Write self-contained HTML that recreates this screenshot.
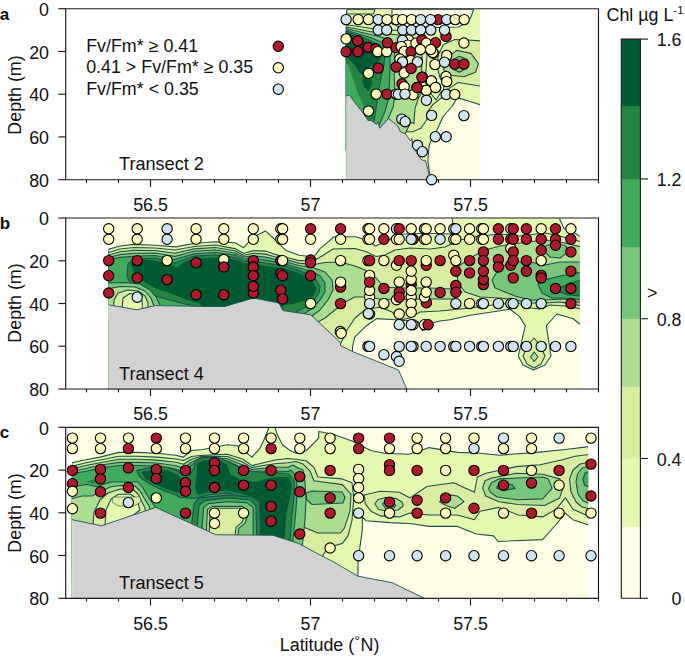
<!DOCTYPE html>
<html><head><meta charset="utf-8"><title>Chl transects</title>
<style>
html,body{margin:0;padding:0;background:#fff;}
body{width:685px;height:660px;position:relative;overflow:hidden;font-family:"Liberation Sans",sans-serif;font-size:17.85px;color:#111;}
.t{position:absolute;white-space:nowrap;line-height:1;}
.t.ym{transform:translateY(-50%);}
.t.r{transform:translate(-100%,-50%);}
.t.c{transform:translate(-50%,-50%);}
.t.yl{transform:translate(-50%,-50%) rotate(-90deg);}
</style></head><body>
<svg width="685" height="660" viewBox="0 0 685 660" style="position:absolute;left:0;top:0">
<rect width="685" height="660" fill="#fff"/>
<clipPath id="cpa"><rect x="345.8" y="9.3" width="134.2" height="170.6"/></clipPath>
<g clip-path="url(#cpa)"><polygon points="345.8,9.4 480.0,9.4 480.0,179.9 345.8,179.9" fill="#e4f9ae"/><polygon points="392.0,9.4 473.5,9.4 471.0,17.0 467.0,23.0 458.0,27.0 440.0,27.5 420.0,26.5 400.0,27.0 392.0,24.0" fill="#ffffe5" stroke="#1f4f4c" stroke-width="1.1" stroke-linejoin="round"/><polygon points="481.0,104.9 470.0,101.5 460.6,98.6 457.1,97.9 452.4,106.0 443.1,116.5 437.2,129.4 431.4,139.9 429.1,145.7 427.9,159.8 429.0,170.0 431.0,181.0 481.0,181.0" fill="#ffffe5" stroke="#1f4f4c" stroke-width="1.1" stroke-linejoin="round"/><polygon points="347.0,9.4 375.0,9.4 373.5,14.0 346.5,14.0" fill="#d9eda0" stroke="#1f4f4c" stroke-width="1.1" stroke-linejoin="round"/><polygon points="345.8,25.0 352.0,25.5 362.0,27.0 375.0,29.0 390.0,30.0 410.0,31.0 424.0,33.0 428.0,45.0 427.0,56.0 426.0,70.0 425.0,80.0 428.0,90.0 436.0,100.0 441.0,92.0 449.2,88.4 458.0,82.5 481.0,86.2 481.0,41.0 468.0,40.0 455.0,39.5 443.4,44.6 438.3,54.8 437.0,66.0 440.0,78.0 444.0,84.0 443.0,96.7 432.6,104.9 427.9,111.9 426.7,120.0 420.9,128.2 412.7,131.7 401.0,131.7 395.0,150.0 345.8,150.0" fill="#d9eda0" stroke="#1f4f4c" stroke-width="1.1" stroke-linejoin="round"/><polygon points="443.4,69.4 446.3,59.2 456.5,50.4 471.0,53.4 478.4,63.6 475.5,72.3 463.8,76.7 450.7,75.3" fill="#addd8e" stroke="#1f4f4c" stroke-width="1.1" stroke-linejoin="round"/><polygon points="453.6,59.2 459.5,56.3 466.8,59.2 466.8,68.0 459.5,72.3 453.6,69.4" fill="#78c679" stroke="#1f4f4c" stroke-width="1.1" stroke-linejoin="round"/><polygon points="345.8,27.0 352.0,28.0 362.0,30.0 375.0,32.5 390.0,34.0 405.0,36.0 416.0,40.0 421.0,48.0 422.0,56.0 421.5,78.0 420.0,95.7 418.6,97.9 415.0,108.4 413.9,123.6 410.6,122.4 405.0,134.0 395.0,150.0 345.8,150.0" fill="#addd8e" stroke="#1f4f4c" stroke-width="1.1" stroke-linejoin="round"/><polygon points="345.8,28.5 352.0,30.0 362.0,32.5 375.0,35.5 388.0,39.0 394.0,45.0 395.0,60.0 394.2,75.0 395.0,93.3 393.3,106.7 388.3,118.3 384.0,126.0 380.0,132.0 345.8,150.0" fill="#78c679" stroke="#1f4f4c" stroke-width="1.1" stroke-linejoin="round"/><polygon points="345.8,30.0 352.0,32.0 362.0,35.0 373.0,38.5 383.0,43.0 389.0,49.0 390.0,55.8 390.0,70.0 389.2,86.7 388.3,100.0 384.2,113.3 380.0,123.3 376.0,130.0 345.8,150.0" fill="#41ab5d" stroke="#1f4f4c" stroke-width="1.1" stroke-linejoin="round"/><polygon points="345.8,31.0 352.0,33.5 362.0,37.0 372.0,41.5 380.0,46.5 384.5,51.0 385.0,53.3 384.2,63.3 381.7,75.0 379.2,86.7 377.5,98.3 375.8,110.0 374.2,120.0 370.0,128.0 345.8,150.0" fill="#238443" stroke="#1f4f4c" stroke-width="1.1" stroke-linejoin="round"/><polygon points="344.8,62.0 349.0,66.0 352.0,76.0 356.0,88.0 360.0,98.0 365.0,108.0 368.0,116.0 362.0,122.0 344.8,112.0" fill="#41ab5d"/><polygon points="344.8,31.7 356.7,36.7 371.7,45.0 381.7,50.8 382.5,55.8 378.3,61.7 373.3,64.2 368.3,68.3 364.0,74.5 360.0,73.3 353.3,63.3 344.8,55.8" fill="#005a32"/><polygon points="362.5,76.7 368.3,75.0 372.5,83.3 368.3,91.7 364.2,86.7 362.5,81.7" fill="#005a32"/><polygon points="345.8,96.4 349.5,95.0 355.2,103.2 362.7,112.3 368.0,120.6 371.0,120.2 376.4,124.4 377.9,122.2 379.7,128.2 388.5,118.6 392.3,121.4 397.6,125.9 400.6,132.0 405.2,133.5 410.5,141.0 412.0,138.5 412.7,145.6 418.8,156.2 421.8,160.0 425.6,160.8 427.9,169.8 431.0,181.0 343.8,181.0 343.8,96.4" fill="#d2d2d2" stroke="#1f4f4c" stroke-width="0.9" stroke-linejoin="round"/><path d="M346.3 96V181" stroke="#9fd49a" stroke-width="1.2"/></g>
<clipPath id="cpb"><rect x="108.4" y="218.6" width="471.4" height="170.6"/></clipPath>
<g clip-path="url(#cpb)"><polygon points="108.4,218.6 579.8,218.6 579.8,389.2 108.4,389.2" fill="#ffffe5"/><polygon points="108.4,249.4 120.1,246.0 133.6,244.4 155.4,245.2 175.5,246.9 194.0,243.5 215.0,241.8 235.2,242.7 243.6,247.7 253.7,236.8 265.4,230.9 275.5,240.2 285.5,250.2 299.0,255.3 314.0,257.0 320.0,248.6 330.2,240.2 333.6,236.8 355.4,236.8 367.0,240.2 375.5,246.0 378.9,244.4 388.0,241.0 396.0,235.0 410.0,233.5 440.0,233.5 451.0,234.0 455.0,230.0 453.0,225.0 452.0,217.0 558.8,217.0 563.9,228.4 575.6,233.5 581.8,238.0 581.8,325.7 573.2,318.7 556.8,314.0 546.3,325.7 551.0,356.0 545.0,365.0 533.5,370.0 523.0,365.0 518.3,356.0 525.3,325.7 519.4,316.4 510.0,309.3 470.4,315.2 450.0,319.7 440.0,321.0 428.0,324.0 422.6,330.7 418.2,321.9 400.0,320.0 376.6,318.6 365.7,326.3 354.7,337.2 352.5,347.0 352.5,351.5 300.0,392.0 108.4,392.0" fill="#e4f9ae" stroke="#1f4f4c" stroke-width="1.1" stroke-linejoin="round"/><polygon points="108.4,252.5 120.0,249.0 134.0,247.5 155.0,248.0 175.0,250.0 194.0,246.5 215.0,245.0 235.0,248.6 243.6,253.3 253.7,250.6 265.4,251.1 275.5,254.4 285.5,257.3 299.0,260.6 314.0,260.5 322.0,256.0 333.0,249.0 355.0,248.5 367.0,252.0 376.0,256.5 385.0,255.0 395.0,250.0 410.0,248.0 430.0,249.0 445.0,247.0 460.0,240.0 480.0,236.0 500.0,234.0 520.0,236.0 545.0,233.0 560.0,236.0 581.8,242.0 581.8,309.0 565.0,306.0 550.0,305.0 540.0,309.0 530.0,308.0 518.0,303.0 500.0,304.0 470.0,308.0 440.0,311.0 420.0,312.0 410.0,318.0 400.0,320.0 392.0,312.0 380.0,307.0 365.0,310.0 355.0,318.0 347.0,330.0 341.0,343.0 300.0,392.0 108.4,392.0" fill="#d9eda0" stroke="#1f4f4c" stroke-width="1.1" stroke-linejoin="round"/><polygon points="108.4,255.0 120.0,251.8 134.0,250.4 155.0,250.5 175.0,253.2 194.0,248.9 215.0,247.5 235.0,250.8 243.6,255.2 253.7,253.2 265.4,254.1 275.5,257.0 285.5,259.6 299.0,263.1 314.0,264.5 325.0,262.5 340.0,262.0 355.0,266.0 365.0,270.0 376.0,278.0 384.0,287.0 400.0,288.0 430.0,288.0 454.0,289.0 462.0,292.0 454.0,299.0 430.0,299.0 400.0,299.5 380.0,299.0 366.0,297.0 355.0,297.0 345.0,302.0 335.0,310.0 325.0,318.0 318.0,322.0 300.0,392.0 108.4,392.0" fill="#addd8e" stroke="#1f4f4c" stroke-width="1.1" stroke-linejoin="round"/><polygon points="459.0,266.0 470.0,258.0 485.0,250.0 500.0,246.0 520.0,243.0 545.0,240.0 565.0,243.0 581.8,247.0 581.8,306.0 560.0,302.0 545.0,303.0 530.0,303.0 515.0,300.0 500.0,298.0 480.0,297.0 465.0,292.0 458.0,283.0 457.0,274.0" fill="#addd8e" stroke="#1f4f4c" stroke-width="1.1" stroke-linejoin="round"/><polygon points="498.0,270.0 510.0,262.0 530.0,262.0 545.0,265.0 560.0,262.0 581.8,262.0 581.8,303.0 565.0,299.0 545.0,300.0 530.0,300.0 515.0,296.0 505.0,292.0 495.0,288.0 492.0,280.0" fill="#78c679" stroke="#1f4f4c" stroke-width="1.1" stroke-linejoin="round"/><polygon points="545.0,246.0 555.0,243.0 566.0,246.0 568.0,252.0 560.0,258.0 550.0,257.0 545.0,252.0" fill="#78c679" stroke="#1f4f4c" stroke-width="1.1" stroke-linejoin="round"/><polygon points="538.0,284.0 548.0,279.0 560.0,276.0 581.8,272.0 581.8,300.0 565.0,298.0 552.0,298.0 542.0,293.0" fill="#41ab5d" stroke="#1f4f4c" stroke-width="1.1" stroke-linejoin="round"/><polygon points="560.0,288.0 570.0,283.0 581.8,280.0 581.8,296.0 568.0,295.0 560.0,292.0" fill="#238443" stroke="#1f4f4c" stroke-width="1.1" stroke-linejoin="round"/><polygon points="528.0,345.0 534.0,338.0 540.0,345.0 545.0,356.0 541.0,364.0 534.0,368.0 527.0,364.0 523.0,356.0" fill="#d9eda0" stroke="#1f4f4c" stroke-width="1.1" stroke-linejoin="round"/><polygon points="534.2,352.0 538.0,357.0 534.2,361.5 530.5,357.0" fill="#addd8e" stroke="#1f4f4c" stroke-width="1.1" stroke-linejoin="round"/><polygon points="108.4,257.5 120.0,254.6 134.0,253.3 155.0,253.0 175.0,256.4 194.0,251.3 215.0,250.0 235.0,253.0 243.6,257.1 253.7,255.8 265.4,257.1 275.5,259.6 285.5,261.9 299.0,265.5 314.0,268.0 325.0,272.0 332.0,280.0 333.0,290.0 328.0,300.0 320.0,310.0 312.0,316.0 300.0,392.0 108.4,392.0" fill="#78c679" stroke="#1f4f4c" stroke-width="1.1" stroke-linejoin="round"/><polygon points="108.4,260.0 120.0,257.4 134.0,256.2 155.0,255.5 175.0,259.6 194.0,253.7 215.0,252.5 235.0,255.1 243.6,259.0 253.7,258.5 265.4,260.0 275.5,262.1 285.5,264.1 299.0,268.0 312.0,271.5 320.0,276.0 325.0,283.0 325.0,292.0 320.0,300.0 313.0,308.0 305.0,313.0 300.0,392.0 108.4,392.0" fill="#41ab5d" stroke="#1f4f4c" stroke-width="1.1" stroke-linejoin="round"/><polygon points="128.0,264.0 134.0,259.1 155.0,258.0 175.0,262.8 194.0,256.1 215.0,255.0 235.0,257.3 243.6,260.9 253.7,261.1 265.4,263.0 275.5,264.7 285.5,266.4 299.0,270.4 310.0,275.0 316.0,280.0 320.0,286.0 319.0,293.0 314.0,300.0 306.0,307.0 298.0,311.0 283.0,320.0 200.0,320.0 200.0,307.0 185.0,304.0 170.0,300.0 155.0,296.0 140.0,290.0 131.0,285.0 127.0,276.0" fill="#238443" stroke="#1f4f4c" stroke-width="1.1" stroke-linejoin="round"/><polygon points="131.0,263.7 142.0,259.5 155.0,260.5 170.0,264.0 176.5,267.5 184.0,262.0 194.0,258.5 215.0,257.5 235.0,259.5 243.6,262.8 253.7,263.7 265.4,266.0 275.5,267.3 285.5,268.7 299.0,272.9 308.0,277.0 312.4,280.4 316.6,289.0 313.0,296.0 305.7,300.6 295.0,303.5 283.0,305.6 283.0,320.0 200.0,320.0 200.7,304.0 184.0,299.0 172.0,293.9 155.0,288.0 150.3,285.5 141.0,280.0 136.0,278.8 133.0,270.0" fill="#005a32"/><polygon points="107.4,283.0 125.0,282.5 140.0,284.0 150.0,290.0 156.0,297.0 160.0,305.0 160.0,320.0 107.4,320.0" fill="#78c679" stroke="#1f4f4c" stroke-width="1.1" stroke-linejoin="round"/><polygon points="107.4,289.0 120.0,286.5 135.0,287.0 145.0,291.0 151.0,298.0 154.0,306.0 154.0,320.0 107.4,320.0" fill="#addd8e" stroke="#1f4f4c" stroke-width="1.1" stroke-linejoin="round"/><polygon points="113.0,320.0 114.0,300.0 118.0,293.0 128.0,290.0 138.0,291.0 145.0,296.0 148.0,303.0 148.0,320.0" fill="#d9eda0" stroke="#1f4f4c" stroke-width="1.1" stroke-linejoin="round"/><polygon points="121.0,320.0 123.0,298.0 130.0,293.5 138.0,295.0 142.0,300.0 143.0,320.0" fill="#e4f9ae" stroke="#1f4f4c" stroke-width="1.1" stroke-linejoin="round"/><polygon points="106.4,304.8 108.4,304.8 137.0,309.8 155.4,305.6 205.0,306.4 225.0,306.4 253.7,298.0 278.8,303.0 283.0,310.6 300.0,313.1 311.0,314.9 340.5,342.7 340.5,345.5 352.5,351.5 398.5,370.0 407.3,390.0 106.4,390.0" fill="#d2d2d2" stroke="#1f4f4c" stroke-width="0.9" stroke-linejoin="round"/><path d="M108.9 305V390" stroke="#c9e9b4" stroke-width="1.2"/></g>
<clipPath id="cpc"><rect x="71.9" y="427.9" width="516.3" height="170.6"/></clipPath>
<g clip-path="url(#cpc)"><polygon points="71.9,427.9 588.2,427.9 588.2,598.5 71.9,598.5" fill="#ffffe5"/><polygon points="71.9,462.8 84.8,460.0 100.0,457.1 119.0,452.4 138.0,452.4 156.9,453.3 175.9,455.2 183.4,457.1 191.4,450.5 202.8,449.5 227.4,444.8 237.0,445.7 252.0,457.1 259.7,448.6 263.5,441.0 269.2,427.0 275.0,427.0 276.8,433.4 282.5,444.8 290.0,450.5 297.0,453.5 306.4,450.5 318.7,438.1 318.7,431.5 333.0,434.3 352.0,441.0 371.0,450.5 384.2,453.3 409.0,454.3 420.0,451.0 429.0,447.6 457.4,452.4 480.0,453.3 499.0,455.2 537.0,452.4 565.4,449.5 590.2,446.5 590.2,525.6 573.0,519.7 565.4,513.1 556.0,524.5 542.6,539.6 498.0,541.5 493.5,535.9 476.4,534.0 457.4,526.4 429.0,526.4 410.0,523.5 390.0,522.6 366.0,520.7 362.4,517.0 362.3,530.0 360.0,546.6 358.0,563.5 358.0,576.2 300.0,601.0 71.9,601.0" fill="#e4f9ae" stroke="#1f4f4c" stroke-width="1.1" stroke-linejoin="round"/><polygon points="70.9,466.6 84.8,463.0 100.0,460.0 119.0,456.2 138.0,456.2 156.9,457.1 175.9,459.0 183.4,460.5 191.4,456.5 202.8,455.2 227.4,454.3 242.6,459.0 252.0,465.6 263.5,462.8 275.0,460.0 288.0,458.5 298.0,459.5 306.4,461.0 314.0,467.5 317.8,477.0 342.4,478.9 352.0,482.7 353.8,497.9 352.0,520.7 348.0,535.9 342.4,543.4 333.0,546.3 325.0,552.0 320.0,560.0 300.0,601.0 71.9,601.0" fill="#d9eda0" stroke="#1f4f4c" stroke-width="1.1" stroke-linejoin="round"/><polygon points="364.3,495.0 380.4,491.3 399.4,492.2 410.0,497.9 427.0,486.5 453.6,482.7 474.5,492.2 477.4,477.0 486.0,473.2 516.3,466.6 540.0,464.7 561.6,460.0 574.9,456.2 590.2,454.3 590.2,516.9 573.0,509.3 565.4,497.9 556.0,509.3 542.6,516.9 518.0,515.0 499.0,507.4 480.0,511.2 474.5,519.7 457.4,515.0 429.0,515.0 410.0,513.1 399.4,516.9 380.4,515.9 371.0,511.2 365.2,503.6" fill="#d9eda0" stroke="#1f4f4c" stroke-width="1.1" stroke-linejoin="round"/><polygon points="70.9,469.1 84.8,465.8 100.0,462.7 119.0,459.3 138.0,459.3 156.9,460.1 175.9,462.3 183.4,464.3 191.4,459.3 202.8,456.1 227.4,456.5 242.6,462.0 252.0,467.6 263.5,465.5 275.0,463.7 288.0,462.8 296.0,461.5 302.6,463.7 310.2,471.3 314.0,480.8 342.4,484.6 351.0,494.1 350.0,511.2 344.3,528.3 340.5,533.0 317.8,533.0 306.4,528.3 300.0,526.0 300.0,560.0 300.0,601.0 71.9,601.0" fill="#addd8e" stroke="#1f4f4c" stroke-width="1.1" stroke-linejoin="round"/><polygon points="439.4,501.7 450.8,495.1 457.4,496.0 464.0,501.7 454.6,508.3 446.0,505.5" fill="#addd8e" stroke="#1f4f4c" stroke-width="1.1" stroke-linejoin="round"/><polygon points="374.7,504.0 378.0,499.5 386.0,497.5 396.0,498.5 402.0,502.0 403.2,506.0 398.0,510.0 388.0,511.5 379.0,509.5" fill="#addd8e" stroke="#1f4f4c" stroke-width="1.1" stroke-linejoin="round"/><polygon points="382.3,504.0 385.0,501.0 390.0,500.5 394.5,502.5 395.6,506.0 392.0,509.0 386.0,509.0" fill="#78c679" stroke="#1f4f4c" stroke-width="1.1" stroke-linejoin="round"/><polygon points="483.0,486.5 485.0,480.8 491.6,478.0 516.3,473.2 542.6,474.2 559.7,478.9 563.5,486.5 559.7,497.9 544.5,505.5 518.0,504.5 499.0,501.7 485.7,496.0 482.8,488.4" fill="#addd8e" stroke="#1f4f4c" stroke-width="1.1" stroke-linejoin="round"/><polygon points="488.5,488.4 491.4,482.7 499.0,478.9 542.6,477.0 548.3,478.9 552.1,488.4 542.6,498.9 518.0,499.8 497.0,497.0 490.4,492.2" fill="#78c679" stroke="#1f4f4c" stroke-width="1.1" stroke-linejoin="round"/><polygon points="496.5,488.0 499.0,484.0 512.0,484.5 515.0,488.5 503.0,490.5" fill="#41ab5d" stroke="#1f4f4c" stroke-width="1.1" stroke-linejoin="round"/><polygon points="590.2,462.0 580.0,464.0 573.0,470.0 569.5,479.0 571.0,492.0 576.0,502.0 582.0,507.0 590.2,509.0" fill="#addd8e" stroke="#1f4f4c" stroke-width="1.1" stroke-linejoin="round"/><polygon points="590.2,466.0 582.0,468.0 577.5,474.0 576.0,482.0 578.0,494.0 583.0,501.0 590.2,504.0" fill="#78c679" stroke="#1f4f4c" stroke-width="1.1" stroke-linejoin="round"/><polygon points="590.2,471.0 585.0,473.0 583.0,479.0 584.5,485.0 590.2,488.0" fill="#41ab5d" stroke="#1f4f4c" stroke-width="1.1" stroke-linejoin="round"/><polygon points="70.9,471.5 84.8,468.7 100.0,465.3 119.0,462.4 138.0,462.4 156.9,463.0 175.9,465.7 183.4,468.2 191.4,462.2 202.8,457.1 227.4,458.8 242.6,465.0 252.0,469.5 263.5,468.3 275.0,467.3 288.0,467.2 293.0,465.0 298.0,468.0 303.0,470.0 305.0,482.0 306.0,500.0 305.0,520.0 303.0,540.0 300.0,560.0 300.0,601.0 71.9,601.0" fill="#78c679" stroke="#1f4f4c" stroke-width="1.1" stroke-linejoin="round"/><polygon points="306.0,493.0 312.0,491.0 342.0,492.0 345.0,497.0 343.0,503.0 312.0,504.5 307.0,500.0" fill="#78c679" stroke="#1f4f4c" stroke-width="1.1" stroke-linejoin="round"/><polygon points="70.9,474.0 84.8,471.5 100.0,468.0 119.0,465.5 138.0,465.5 156.9,466.0 175.9,469.0 183.4,472.0 191.4,465.0 202.8,458.0 227.4,461.0 242.6,468.0 252.0,471.5 263.5,471.0 275.0,471.0 288.0,471.5 291.0,470.0 294.5,474.0 296.5,478.0 297.0,495.0 295.5,515.0 293.0,540.0 292.0,560.0 300.0,601.0 71.9,601.0" fill="#41ab5d" stroke="#1f4f4c" stroke-width="1.1" stroke-linejoin="round"/><polygon points="137.0,470.5 147.0,468.0 157.0,466.5 169.0,467.5 181.0,472.0 190.0,475.0 194.0,468.0 195.0,461.0 204.0,457.8 219.0,457.8 231.0,463.0 244.0,470.0 257.0,472.0 275.0,472.5 289.0,474.0 294.5,482.0 294.0,497.0 292.0,515.0 289.5,545.0 258.0,545.0 257.0,517.0 254.0,500.0 242.6,496.5 227.4,493.0 208.5,495.0 195.2,498.5 180.0,497.5 175.9,495.0 164.5,491.0 153.0,485.5 145.0,481.0 139.0,476.0" fill="#238443" stroke="#1f4f4c" stroke-width="1.1" stroke-linejoin="round"/><polygon points="86.3,481.4 93.3,479.5 100.9,480.4 100.0,483.1 92.4,484.0" fill="#238443"/><polygon points="70.9,487.0 86.7,484.5 96.2,486.5 111.3,482.0 137.9,482.0 143.0,488.0 147.0,495.0 153.0,504.0 156.3,507.8 156.3,540.0 70.9,540.0" fill="#78c679" stroke="#1f4f4c" stroke-width="1.1" stroke-linejoin="round"/><polygon points="70.9,499.0 82.0,496.0 92.0,496.0 100.0,492.0 110.0,487.0 120.0,485.5 135.0,486.0 140.0,491.0 144.0,498.0 149.0,506.0 151.0,512.0 151.0,540.0 70.9,540.0" fill="#addd8e" stroke="#1f4f4c" stroke-width="1.1" stroke-linejoin="round"/><polygon points="92.0,540.0 94.0,512.0 100.0,500.0 108.0,493.0 120.0,489.0 133.0,489.5 138.0,494.0 141.0,500.0 145.0,508.0 146.0,540.0" fill="#d9eda0" stroke="#1f4f4c" stroke-width="1.1" stroke-linejoin="round"/><polygon points="104.0,540.0 106.0,510.0 111.0,499.0 118.0,494.5 130.0,494.0 136.0,498.0 138.0,503.0 140.0,510.0 132.0,516.0 112.0,524.0" fill="#e4f9ae" stroke="#1f4f4c" stroke-width="1.1" stroke-linejoin="round"/><polygon points="113.0,497.0 140.0,497.0 141.0,502.0 134.0,506.0 118.0,506.0 112.0,502.0" fill="#d9eda0" stroke="#1f4f4c" stroke-width="0.6" stroke-linejoin="round"/><polygon points="141.7,471.7 156.9,469.8 168.3,470.8 179.6,476.1 183.4,484.6 183.4,493.7 175.9,492.2 164.5,488.4 153.1,482.7 145.5,478.9" fill="#005a32"/><polygon points="196.1,478.9 197.1,469.4 197.1,462.8 204.7,460.0 218.0,460.0 227.4,464.7 230.3,474.2 242.6,480.8 255.9,481.8 265.4,478.9 274.9,477.0 288.2,477.0 292.0,484.6 290.1,497.9 286.3,513.1 284.4,543.4 261.6,543.4 259.7,516.9 255.9,497.9 242.6,494.1 227.4,490.3 208.5,492.2 198.0,495.1 195.2,488.4" fill="#005a32"/><polygon points="191.4,524.5 194.2,503.6 199.0,497.9 227.4,495.1 252.1,497.0 259.7,501.7 260.6,545.0 192.0,545.0" fill="#238443" stroke="#1f4f4c" stroke-width="1.1" stroke-linejoin="round"/><polygon points="197.1,528.3 199.0,505.5 204.7,500.7 227.4,497.9 250.2,499.8 255.9,505.5 256.9,545.0 198.0,545.0" fill="#41ab5d" stroke="#1f4f4c" stroke-width="1.1" stroke-linejoin="round"/><polygon points="201.8,531.1 203.7,507.4 208.5,503.6 227.4,501.7 246.4,502.6 253.1,507.4 253.1,545.0 202.0,545.0" fill="#78c679" stroke="#1f4f4c" stroke-width="1.1" stroke-linejoin="round"/><polygon points="205.6,545.0 207.5,509.3 212.3,506.4 242.6,506.4 247.4,511.2 245.5,522.6 238.8,528.3 236.9,545.0" fill="#addd8e" stroke="#1f4f4c" stroke-width="1.1" stroke-linejoin="round"/><polygon points="208.5,545.0 210.4,511.2 215.1,508.3 240.7,508.3 244.5,512.1 242.6,521.6 236.0,527.3 234.0,545.0" fill="#d9eda0" stroke="#1f4f4c" stroke-width="1.1" stroke-linejoin="round"/><polygon points="69.9,519.7 71.9,519.7 101.4,525.8 155.8,507.4 215.7,534.7 272.9,535.3 298.5,543.4 320.0,555.0 332.0,561.0 358.0,576.2 392.0,582.6 425.8,599.0 69.9,601.0" fill="#d2d2d2" stroke="#1f4f4c" stroke-width="0.9" stroke-linejoin="round"/><path d="M72.4 520V600" stroke="#c9e9b4" stroke-width="1.2"/></g>
<g stroke="#1a1a1a" stroke-width="1.15" fill="none"><path d="M65.7 8.7H598.5V179.7H65.7Z" fill="none"/><path d="M58.4 8.7H65.7"/><path d="M58.4 51.5H65.7"/><path d="M58.4 94.2H65.7"/><path d="M58.4 136.9H65.7"/><path d="M58.4 179.7H65.7"/><path d="M86.5 179.7V183.1"/><path d="M118.5 179.7V183.1"/><path d="M150.5 179.7V186.9"/><path d="M182.5 179.7V183.1"/><path d="M214.5 179.7V183.1"/><path d="M246.5 179.7V183.1"/><path d="M278.5 179.7V183.1"/><path d="M310.5 179.7V186.9"/><path d="M342.5 179.7V183.1"/><path d="M374.5 179.7V183.1"/><path d="M406.5 179.7V183.1"/><path d="M438.5 179.7V183.1"/><path d="M470.5 179.7V186.9"/><path d="M502.5 179.7V183.1"/><path d="M534.5 179.7V183.1"/><path d="M566.5 179.7V183.1"/><path d="M598.5 179.7V183.1"/><path d="M65.7 218.0H598.5V389.0H65.7Z" fill="none"/><path d="M58.4 218.0H65.7"/><path d="M58.4 260.8H65.7"/><path d="M58.4 303.5H65.7"/><path d="M58.4 346.2H65.7"/><path d="M58.4 389.0H65.7"/><path d="M86.5 389.0V392.4"/><path d="M118.5 389.0V392.4"/><path d="M150.5 389.0V396.2"/><path d="M182.5 389.0V392.4"/><path d="M214.5 389.0V392.4"/><path d="M246.5 389.0V392.4"/><path d="M278.5 389.0V392.4"/><path d="M310.5 389.0V396.2"/><path d="M342.5 389.0V392.4"/><path d="M374.5 389.0V392.4"/><path d="M406.5 389.0V392.4"/><path d="M438.5 389.0V392.4"/><path d="M470.5 389.0V396.2"/><path d="M502.5 389.0V392.4"/><path d="M534.5 389.0V392.4"/><path d="M566.5 389.0V392.4"/><path d="M598.5 389.0V392.4"/><path d="M65.7 427.3H598.5V598.3H65.7Z" fill="none"/><path d="M58.4 427.3H65.7"/><path d="M58.4 470.1H65.7"/><path d="M58.4 512.8H65.7"/><path d="M58.4 555.5H65.7"/><path d="M58.4 598.3H65.7"/><path d="M86.5 598.3V601.7"/><path d="M118.5 598.3V601.7"/><path d="M150.5 598.3V605.5"/><path d="M182.5 598.3V601.7"/><path d="M214.5 598.3V601.7"/><path d="M246.5 598.3V601.7"/><path d="M278.5 598.3V601.7"/><path d="M310.5 598.3V605.5"/><path d="M342.5 598.3V601.7"/><path d="M374.5 598.3V601.7"/><path d="M406.5 598.3V601.7"/><path d="M438.5 598.3V601.7"/><path d="M470.5 598.3V605.5"/><path d="M502.5 598.3V601.7"/><path d="M534.5 598.3V601.7"/><path d="M566.5 598.3V601.7"/><path d="M598.5 598.3V601.7"/></g>
<g stroke="#000" stroke-width="1.1"><circle cx="438.1" cy="19.6" r="5.15" fill="#b2182b"/><circle cx="346.1" cy="19.6" r="5.15" fill="#cfe4f0"/><circle cx="358.2" cy="19.6" r="5.15" fill="#fffcc0"/><circle cx="368.5" cy="19.6" r="5.15" fill="#fffcc0"/><circle cx="378.2" cy="19.6" r="5.15" fill="#cfe4f0"/><circle cx="396.2" cy="19.6" r="5.15" fill="#fffcc0"/><circle cx="387.0" cy="19.6" r="5.15" fill="#fffcc0"/><circle cx="402.5" cy="19.6" r="5.15" fill="#fffcc0"/><circle cx="411.5" cy="19.6" r="5.15" fill="#fffcc0"/><circle cx="420.6" cy="19.6" r="5.15" fill="#cfe4f0"/><circle cx="430.5" cy="19.6" r="5.15" fill="#cfe4f0"/><circle cx="378.2" cy="30.1" r="5.15" fill="#cfe4f0"/><circle cx="386.7" cy="30.1" r="5.15" fill="#cfe4f0"/><circle cx="402.8" cy="30.1" r="5.15" fill="#cfe4f0"/><circle cx="411.5" cy="30.1" r="5.15" fill="#cfe4f0"/><circle cx="420.6" cy="30.1" r="5.15" fill="#cfe4f0"/><circle cx="430.8" cy="30.1" r="5.15" fill="#cfe4f0"/><circle cx="346.1" cy="38.9" r="5.15" fill="#fffcc0"/><circle cx="357.8" cy="40.8" r="5.15" fill="#b2182b"/><circle cx="346.1" cy="51.7" r="5.15" fill="#b2182b"/><circle cx="357.8" cy="51.7" r="5.15" fill="#b2182b"/><circle cx="368.0" cy="47.3" r="5.15" fill="#b2182b"/><circle cx="375.8" cy="48.8" r="5.15" fill="#b2182b"/><circle cx="377.7" cy="51.7" r="5.15" fill="#fffcc0"/><circle cx="386.7" cy="51.7" r="5.15" fill="#fffcc0"/><circle cx="387.4" cy="42.7" r="5.15" fill="#b2182b"/><circle cx="396.2" cy="47.6" r="5.15" fill="#b2182b"/><circle cx="408.6" cy="40.0" r="5.15" fill="#fffcc0"/><circle cx="402.5" cy="40.3" r="5.15" fill="#cfe4f0"/><circle cx="407.9" cy="45.1" r="5.15" fill="#fffcc0"/><circle cx="401.3" cy="46.6" r="5.15" fill="#fffcc0"/><circle cx="404.2" cy="51.4" r="5.15" fill="#fffcc0"/><circle cx="411.1" cy="51.7" r="5.15" fill="#b2182b"/><circle cx="422.0" cy="40.3" r="5.15" fill="#b2182b"/><circle cx="415.9" cy="43.2" r="5.15" fill="#fffcc0"/><circle cx="426.1" cy="43.7" r="5.15" fill="#fffcc0"/><circle cx="433.4" cy="53.2" r="5.15" fill="#fffcc0"/><circle cx="420.3" cy="49.5" r="5.15" fill="#fffcc0"/><circle cx="430.5" cy="50.3" r="5.15" fill="#fffcc0"/><circle cx="399.9" cy="59.0" r="5.15" fill="#fffcc0"/><circle cx="410.8" cy="60.5" r="5.15" fill="#fffcc0"/><circle cx="402.5" cy="61.9" r="5.15" fill="#cfe4f0"/><circle cx="417.4" cy="61.9" r="5.15" fill="#cfe4f0"/><circle cx="396.2" cy="67.0" r="5.15" fill="#b2182b"/><circle cx="404.2" cy="72.9" r="5.15" fill="#fffcc0"/><circle cx="411.1" cy="68.5" r="5.15" fill="#b2182b"/><circle cx="378.2" cy="68.1" r="5.15" fill="#b2182b"/><circle cx="368.5" cy="73.3" r="5.15" fill="#fffcc0"/><circle cx="422.5" cy="77.3" r="5.15" fill="#b2182b"/><circle cx="431.2" cy="80.9" r="5.15" fill="#fffcc0"/><circle cx="402.0" cy="83.8" r="5.15" fill="#b2182b"/><circle cx="404.2" cy="86.8" r="5.15" fill="#fffcc0"/><circle cx="416.9" cy="87.5" r="5.15" fill="#b2182b"/><circle cx="426.1" cy="90.4" r="5.15" fill="#fffcc0"/><circle cx="435.6" cy="87.5" r="5.15" fill="#fffcc0"/><circle cx="376.2" cy="94.1" r="5.15" fill="#fffcc0"/><circle cx="387.0" cy="94.1" r="5.15" fill="#b2182b"/><circle cx="396.2" cy="94.1" r="5.15" fill="#cfe4f0"/><circle cx="413.0" cy="94.8" r="5.15" fill="#fffcc0"/><circle cx="398.4" cy="94.3" r="5.15" fill="#cfe4f0"/><circle cx="405.0" cy="94.1" r="5.15" fill="#cfe4f0"/><circle cx="446.7" cy="19.6" r="5.15" fill="#cfe4f0"/><circle cx="455.2" cy="19.6" r="5.15" fill="#fffcc0"/><circle cx="464.2" cy="19.6" r="5.15" fill="#fffcc0"/><circle cx="446.0" cy="36.4" r="5.15" fill="#b2182b"/><circle cx="444.5" cy="30.1" r="5.15" fill="#cfe4f0"/><circle cx="463.9" cy="43.0" r="5.15" fill="#fffcc0"/><circle cx="421.9" cy="40.0" r="5.15" fill="#b2182b"/><circle cx="426.3" cy="43.2" r="5.15" fill="#fffcc0"/><circle cx="435.5" cy="42.7" r="5.15" fill="#b2182b"/><circle cx="432.8" cy="52.4" r="5.15" fill="#fffcc0"/><circle cx="420.4" cy="49.5" r="5.15" fill="#fffcc0"/><circle cx="430.7" cy="49.5" r="5.15" fill="#fffcc0"/><circle cx="446.7" cy="55.4" r="5.15" fill="#fffcc0"/><circle cx="435.0" cy="64.6" r="5.15" fill="#fffcc0"/><circle cx="444.5" cy="62.2" r="5.15" fill="#cfe4f0"/><circle cx="454.7" cy="64.1" r="5.15" fill="#b2182b"/><circle cx="463.9" cy="64.1" r="5.15" fill="#b2182b"/><circle cx="446.0" cy="76.5" r="5.15" fill="#fffcc0"/><circle cx="446.7" cy="81.6" r="5.15" fill="#fffcc0"/><circle cx="431.4" cy="80.9" r="5.15" fill="#fffcc0"/><circle cx="421.9" cy="77.3" r="5.15" fill="#b2182b"/><circle cx="426.3" cy="90.4" r="5.15" fill="#fffcc0"/><circle cx="435.5" cy="87.5" r="5.15" fill="#fffcc0"/><circle cx="417.2" cy="87.5" r="5.15" fill="#b2182b"/><circle cx="426.4" cy="100.3" r="5.15" fill="#cfe4f0"/><circle cx="446.2" cy="94.4" r="5.15" fill="#cfe4f0"/><circle cx="454.8" cy="94.4" r="5.15" fill="#fffcc0"/><circle cx="368.5" cy="111.1" r="5.15" fill="#fffcc0"/><circle cx="431.6" cy="115.4" r="5.15" fill="#cfe4f0"/><circle cx="463.9" cy="115.6" r="5.15" fill="#cfe4f0"/><circle cx="401.8" cy="119.1" r="5.15" fill="#cfe4f0"/><circle cx="405.2" cy="121.7" r="5.15" fill="#cfe4f0"/><circle cx="435.3" cy="136.7" r="5.15" fill="#cfe4f0"/><circle cx="446.2" cy="136.8" r="5.15" fill="#cfe4f0"/><circle cx="417.5" cy="145.3" r="5.15" fill="#cfe4f0"/><circle cx="422.3" cy="151.7" r="5.15" fill="#cfe4f0"/><circle cx="431.6" cy="179.7" r="5.15" fill="#cfe4f0"/></g>
<g stroke="#000" stroke-width="1.1"><circle cx="108.7" cy="228.8" r="5.15" fill="#fffcc0"/><circle cx="108.7" cy="239.3" r="5.15" fill="#fffcc0"/><circle cx="108.7" cy="260.6" r="5.15" fill="#b2182b"/><circle cx="108.7" cy="275.7" r="5.15" fill="#b2182b"/><circle cx="108.7" cy="293.0" r="5.15" fill="#b2182b"/><circle cx="137.2" cy="228.8" r="5.15" fill="#fffcc0"/><circle cx="137.2" cy="239.3" r="5.15" fill="#fffcc0"/><circle cx="137.2" cy="260.6" r="5.15" fill="#b2182b"/><circle cx="137.2" cy="277.9" r="5.15" fill="#b2182b"/><circle cx="137.2" cy="297.2" r="5.15" fill="#cfe4f0"/><circle cx="167.1" cy="228.8" r="5.15" fill="#cfe4f0"/><circle cx="167.1" cy="239.3" r="5.15" fill="#cfe4f0"/><circle cx="167.1" cy="260.6" r="5.15" fill="#fffcc0"/><circle cx="167.1" cy="279.6" r="5.15" fill="#b2182b"/><circle cx="196.1" cy="228.8" r="5.15" fill="#fffcc0"/><circle cx="196.1" cy="239.3" r="5.15" fill="#fffcc0"/><circle cx="196.1" cy="262.8" r="5.15" fill="#b2182b"/><circle cx="196.1" cy="294.7" r="5.15" fill="#b2182b"/><circle cx="223.8" cy="228.8" r="5.15" fill="#fffcc0"/><circle cx="223.8" cy="239.3" r="5.15" fill="#fffcc0"/><circle cx="223.8" cy="259.5" r="5.15" fill="#fffcc0"/><circle cx="223.8" cy="267.0" r="5.15" fill="#b2182b"/><circle cx="223.8" cy="294.7" r="5.15" fill="#b2182b"/><circle cx="253.3" cy="228.8" r="5.15" fill="#fffcc0"/><circle cx="253.3" cy="239.3" r="5.15" fill="#fffcc0"/><circle cx="253.3" cy="260.6" r="5.15" fill="#b2182b"/><circle cx="253.3" cy="293.0" r="5.15" fill="#b2182b"/><circle cx="253.3" cy="267.0" r="5.15" fill="#b2182b"/><circle cx="253.3" cy="275.7" r="5.15" fill="#b2182b"/><circle cx="253.3" cy="286.3" r="5.15" fill="#b2182b"/><circle cx="280.8" cy="228.8" r="5.15" fill="#fffcc0"/><circle cx="280.8" cy="239.3" r="5.15" fill="#fffcc0"/><circle cx="280.8" cy="260.6" r="5.15" fill="#b2182b"/><circle cx="280.8" cy="273.7" r="5.15" fill="#b2182b"/><circle cx="280.8" cy="290.2" r="5.15" fill="#b2182b"/><circle cx="282.6" cy="228.8" r="5.15" fill="#fffcc0"/><circle cx="282.6" cy="239.3" r="5.15" fill="#fffcc0"/><circle cx="282.6" cy="260.6" r="5.15" fill="#fffcc0"/><circle cx="282.6" cy="275.7" r="5.15" fill="#b2182b"/><circle cx="282.6" cy="298.9" r="5.15" fill="#b2182b"/><circle cx="310.6" cy="228.8" r="5.15" fill="#b2182b"/><circle cx="310.6" cy="239.3" r="5.15" fill="#fffcc0"/><circle cx="310.6" cy="260.0" r="5.15" fill="#b2182b"/><circle cx="310.6" cy="262.8" r="5.15" fill="#b2182b"/><circle cx="310.6" cy="275.7" r="5.15" fill="#b2182b"/><circle cx="310.6" cy="303.6" r="5.15" fill="#fffcc0"/><circle cx="340.6" cy="228.8" r="5.15" fill="#b2182b"/><circle cx="340.6" cy="239.3" r="5.15" fill="#fffcc0"/><circle cx="340.6" cy="260.6" r="5.15" fill="#fffcc0"/><circle cx="340.6" cy="287.1" r="5.15" fill="#b2182b"/><circle cx="340.6" cy="282.1" r="5.15" fill="#fffcc0"/><circle cx="340.6" cy="303.6" r="5.15" fill="#b2182b"/><circle cx="368.0" cy="228.8" r="5.15" fill="#fffcc0"/><circle cx="368.0" cy="239.3" r="5.15" fill="#fffcc0"/><circle cx="368.0" cy="260.6" r="5.15" fill="#fffcc0"/><circle cx="368.0" cy="346.4" r="5.15" fill="#cfe4f0"/><circle cx="369.6" cy="228.8" r="5.15" fill="#fffcc0"/><circle cx="369.6" cy="239.3" r="5.15" fill="#fffcc0"/><circle cx="369.6" cy="260.6" r="5.15" fill="#b2182b"/><circle cx="369.6" cy="275.4" r="5.15" fill="#fffcc0"/><circle cx="369.6" cy="297.0" r="5.15" fill="#fffcc0"/><circle cx="369.6" cy="290.5" r="5.15" fill="#fffcc0"/><circle cx="369.6" cy="282.1" r="5.15" fill="#b2182b"/><circle cx="369.6" cy="303.6" r="5.15" fill="#cfe4f0"/><circle cx="369.6" cy="314.0" r="5.15" fill="#cfe4f0"/><circle cx="369.6" cy="346.4" r="5.15" fill="#cfe4f0"/><circle cx="383.9" cy="228.8" r="5.15" fill="#fffcc0"/><circle cx="383.9" cy="239.3" r="5.15" fill="#b2182b"/><circle cx="383.9" cy="260.6" r="5.15" fill="#fffcc0"/><circle cx="383.9" cy="288.5" r="5.15" fill="#b2182b"/><circle cx="383.9" cy="303.6" r="5.15" fill="#fffcc0"/><circle cx="383.9" cy="354.7" r="5.15" fill="#cfe4f0"/><circle cx="396.5" cy="228.8" r="5.15" fill="#cfe4f0"/><circle cx="396.5" cy="239.3" r="5.15" fill="#fffcc0"/><circle cx="396.5" cy="265.3" r="5.15" fill="#fffcc0"/><circle cx="396.5" cy="299.7" r="5.15" fill="#fffcc0"/><circle cx="396.5" cy="356.5" r="5.15" fill="#cfe4f0"/><circle cx="399.2" cy="228.8" r="5.15" fill="#b2182b"/><circle cx="399.2" cy="239.3" r="5.15" fill="#fffcc0"/><circle cx="399.2" cy="260.6" r="5.15" fill="#b2182b"/><circle cx="399.2" cy="282.1" r="5.15" fill="#fffcc0"/><circle cx="399.2" cy="292.2" r="5.15" fill="#b2182b"/><circle cx="399.2" cy="297.2" r="5.15" fill="#b2182b"/><circle cx="399.2" cy="314.0" r="5.15" fill="#fffcc0"/><circle cx="399.2" cy="324.7" r="5.15" fill="#cfe4f0"/><circle cx="399.2" cy="346.4" r="5.15" fill="#cfe4f0"/><circle cx="399.2" cy="361.3" r="5.15" fill="#cfe4f0"/><circle cx="413.0" cy="324.7" r="5.15" fill="#fffcc0"/><circle cx="413.0" cy="346.4" r="5.15" fill="#cfe4f0"/><circle cx="413.2" cy="239.3" r="5.15" fill="#b2182b"/><circle cx="411.2" cy="228.8" r="5.15" fill="#fffcc0"/><circle cx="411.2" cy="239.3" r="5.15" fill="#cfe4f0"/><circle cx="411.2" cy="260.6" r="5.15" fill="#b2182b"/><circle cx="411.2" cy="284.6" r="5.15" fill="#b2182b"/><circle cx="411.2" cy="279.6" r="5.15" fill="#fffcc0"/><circle cx="411.2" cy="271.2" r="5.15" fill="#fffcc0"/><circle cx="411.2" cy="297.0" r="5.15" fill="#fffcc0"/><circle cx="411.2" cy="290.5" r="5.15" fill="#fffcc0"/><circle cx="411.2" cy="303.6" r="5.15" fill="#fffcc0"/><circle cx="411.2" cy="312.3" r="5.15" fill="#fffcc0"/><circle cx="411.2" cy="324.7" r="5.15" fill="#cfe4f0"/><circle cx="411.2" cy="346.4" r="5.15" fill="#cfe4f0"/><circle cx="426.4" cy="302.8" r="5.15" fill="#b2182b"/><circle cx="424.5" cy="228.8" r="5.15" fill="#fffcc0"/><circle cx="424.5" cy="239.3" r="5.15" fill="#fffcc0"/><circle cx="424.5" cy="297.2" r="5.15" fill="#fffcc0"/><circle cx="424.5" cy="324.7" r="5.15" fill="#fffcc0"/><circle cx="426.2" cy="228.8" r="5.15" fill="#fffcc0"/><circle cx="426.2" cy="239.3" r="5.15" fill="#fffcc0"/><circle cx="426.2" cy="265.3" r="5.15" fill="#b2182b"/><circle cx="426.2" cy="260.6" r="5.15" fill="#fffcc0"/><circle cx="426.2" cy="282.1" r="5.15" fill="#fffcc0"/><circle cx="426.2" cy="292.2" r="5.15" fill="#fffcc0"/><circle cx="426.2" cy="346.4" r="5.15" fill="#cfe4f0"/><circle cx="428.1" cy="324.7" r="5.15" fill="#b2182b"/><circle cx="440.1" cy="228.8" r="5.15" fill="#fffcc0"/><circle cx="440.1" cy="239.3" r="5.15" fill="#cfe4f0"/><circle cx="440.1" cy="260.6" r="5.15" fill="#b2182b"/><circle cx="440.1" cy="292.5" r="5.15" fill="#b2182b"/><circle cx="440.1" cy="346.4" r="5.15" fill="#cfe4f0"/><circle cx="453.8" cy="228.8" r="5.15" fill="#fffcc0"/><circle cx="453.8" cy="239.3" r="5.15" fill="#fffcc0"/><circle cx="453.8" cy="255.3" r="5.15" fill="#fffcc0"/><circle cx="453.8" cy="346.4" r="5.15" fill="#cfe4f0"/><circle cx="455.8" cy="228.8" r="5.15" fill="#cfe4f0"/><circle cx="455.8" cy="239.3" r="5.15" fill="#fffcc0"/><circle cx="455.8" cy="260.6" r="5.15" fill="#fffcc0"/><circle cx="455.8" cy="271.2" r="5.15" fill="#b2182b"/><circle cx="455.8" cy="285.5" r="5.15" fill="#b2182b"/><circle cx="455.8" cy="292.2" r="5.15" fill="#b2182b"/><circle cx="455.8" cy="303.6" r="5.15" fill="#cfe4f0"/><circle cx="455.8" cy="346.4" r="5.15" fill="#cfe4f0"/><circle cx="469.6" cy="228.8" r="5.15" fill="#fffcc0"/><circle cx="469.6" cy="239.3" r="5.15" fill="#fffcc0"/><circle cx="469.6" cy="260.6" r="5.15" fill="#b2182b"/><circle cx="469.6" cy="272.9" r="5.15" fill="#b2182b"/><circle cx="469.6" cy="303.6" r="5.15" fill="#fffcc0"/><circle cx="469.6" cy="346.4" r="5.15" fill="#cfe4f0"/><circle cx="481.8" cy="228.8" r="5.15" fill="#fffcc0"/><circle cx="481.8" cy="239.3" r="5.15" fill="#fffcc0"/><circle cx="481.8" cy="303.6" r="5.15" fill="#cfe4f0"/><circle cx="481.8" cy="346.4" r="5.15" fill="#cfe4f0"/><circle cx="483.4" cy="228.8" r="5.15" fill="#fffcc0"/><circle cx="483.4" cy="239.3" r="5.15" fill="#fffcc0"/><circle cx="483.4" cy="251.9" r="5.15" fill="#b2182b"/><circle cx="483.4" cy="260.6" r="5.15" fill="#b2182b"/><circle cx="483.4" cy="284.6" r="5.15" fill="#b2182b"/><circle cx="483.4" cy="279.6" r="5.15" fill="#b2182b"/><circle cx="483.4" cy="271.2" r="5.15" fill="#b2182b"/><circle cx="483.4" cy="303.6" r="5.15" fill="#cfe4f0"/><circle cx="483.4" cy="346.4" r="5.15" fill="#cfe4f0"/><circle cx="498.4" cy="228.8" r="5.15" fill="#b2182b"/><circle cx="498.4" cy="239.3" r="5.15" fill="#b2182b"/><circle cx="498.4" cy="259.5" r="5.15" fill="#b2182b"/><circle cx="498.4" cy="267.0" r="5.15" fill="#b2182b"/><circle cx="498.4" cy="303.6" r="5.15" fill="#cfe4f0"/><circle cx="498.4" cy="346.4" r="5.15" fill="#cfe4f0"/><circle cx="510.8" cy="228.8" r="5.15" fill="#cfe4f0"/><circle cx="510.8" cy="239.3" r="5.15" fill="#b2182b"/><circle cx="510.8" cy="248.6" r="5.15" fill="#fffcc0"/><circle cx="510.8" cy="265.3" r="5.15" fill="#b2182b"/><circle cx="510.8" cy="303.6" r="5.15" fill="#cfe4f0"/><circle cx="510.8" cy="346.4" r="5.15" fill="#cfe4f0"/><circle cx="513.2" cy="228.8" r="5.15" fill="#b2182b"/><circle cx="513.2" cy="239.3" r="5.15" fill="#b2182b"/><circle cx="513.2" cy="251.9" r="5.15" fill="#b2182b"/><circle cx="513.2" cy="260.6" r="5.15" fill="#b2182b"/><circle cx="513.2" cy="277.9" r="5.15" fill="#b2182b"/><circle cx="513.2" cy="303.6" r="5.15" fill="#cfe4f0"/><circle cx="513.2" cy="346.4" r="5.15" fill="#cfe4f0"/><circle cx="526.4" cy="228.8" r="5.15" fill="#b2182b"/><circle cx="526.4" cy="239.3" r="5.15" fill="#b2182b"/><circle cx="526.4" cy="260.6" r="5.15" fill="#b2182b"/><circle cx="526.4" cy="271.2" r="5.15" fill="#b2182b"/><circle cx="526.4" cy="303.6" r="5.15" fill="#cfe4f0"/><circle cx="526.4" cy="346.4" r="5.15" fill="#cfe4f0"/><circle cx="541.2" cy="228.8" r="5.15" fill="#fffcc0"/><circle cx="541.2" cy="239.3" r="5.15" fill="#b2182b"/><circle cx="541.2" cy="250.2" r="5.15" fill="#b2182b"/><circle cx="541.2" cy="260.6" r="5.15" fill="#fffcc0"/><circle cx="541.2" cy="275.4" r="5.15" fill="#b2182b"/><circle cx="541.2" cy="277.9" r="5.15" fill="#b2182b"/><circle cx="541.2" cy="303.6" r="5.15" fill="#cfe4f0"/><circle cx="541.2" cy="346.4" r="5.15" fill="#cfe4f0"/><circle cx="555.5" cy="228.8" r="5.15" fill="#b2182b"/><circle cx="555.5" cy="239.3" r="5.15" fill="#b2182b"/><circle cx="555.5" cy="245.2" r="5.15" fill="#b2182b"/><circle cx="555.5" cy="288.5" r="5.15" fill="#b2182b"/><circle cx="555.5" cy="346.4" r="5.15" fill="#cfe4f0"/><circle cx="570.9" cy="228.8" r="5.15" fill="#fffcc0"/><circle cx="570.9" cy="239.3" r="5.15" fill="#b2182b"/><circle cx="570.9" cy="251.9" r="5.15" fill="#b2182b"/><circle cx="570.9" cy="271.2" r="5.15" fill="#b2182b"/><circle cx="570.9" cy="288.5" r="5.15" fill="#b2182b"/><circle cx="570.9" cy="303.6" r="5.15" fill="#b2182b"/><circle cx="570.9" cy="346.4" r="5.15" fill="#cfe4f0"/><circle cx="340.3" cy="331.5" r="5.15" fill="#fffcc0"/><circle cx="341.2" cy="333.3" r="5.15" fill="#fffcc0"/><circle cx="368.3" cy="313.6" r="5.15" fill="#cfe4f0"/></g>
<g stroke="#000" stroke-width="1.1"><circle cx="72.4" cy="438.1" r="5.15" fill="#fffcc0"/><circle cx="72.4" cy="448.6" r="5.15" fill="#fffcc0"/><circle cx="72.4" cy="470.4" r="5.15" fill="#b2182b"/><circle cx="72.4" cy="483.7" r="5.15" fill="#b2182b"/><circle cx="72.4" cy="491.3" r="5.15" fill="#fffcc0"/><circle cx="72.4" cy="508.7" r="5.15" fill="#fffcc0"/><circle cx="100.5" cy="438.1" r="5.15" fill="#fffcc0"/><circle cx="100.5" cy="448.6" r="5.15" fill="#fffcc0"/><circle cx="100.5" cy="469.4" r="5.15" fill="#b2182b"/><circle cx="100.5" cy="478.9" r="5.15" fill="#b2182b"/><circle cx="100.5" cy="491.8" r="5.15" fill="#b2182b"/><circle cx="100.5" cy="513.1" r="5.15" fill="#b2182b"/><circle cx="128.4" cy="438.1" r="5.15" fill="#fffcc0"/><circle cx="128.4" cy="448.6" r="5.15" fill="#b2182b"/><circle cx="128.4" cy="467.9" r="5.15" fill="#b2182b"/><circle cx="128.4" cy="487.5" r="5.15" fill="#b2182b"/><circle cx="128.4" cy="502.6" r="5.15" fill="#cfe4f0"/><circle cx="156.3" cy="438.1" r="5.15" fill="#b2182b"/><circle cx="156.3" cy="448.6" r="5.15" fill="#fffcc0"/><circle cx="156.3" cy="469.4" r="5.15" fill="#b2182b"/><circle cx="156.3" cy="478.5" r="5.15" fill="#b2182b"/><circle cx="156.3" cy="497.9" r="5.15" fill="#fffcc0"/><circle cx="185.5" cy="438.1" r="5.15" fill="#fffcc0"/><circle cx="185.5" cy="448.6" r="5.15" fill="#fffcc0"/><circle cx="185.5" cy="470.4" r="5.15" fill="#b2182b"/><circle cx="185.5" cy="482.7" r="5.15" fill="#b2182b"/><circle cx="185.5" cy="491.3" r="5.15" fill="#b2182b"/><circle cx="185.5" cy="513.1" r="5.15" fill="#b2182b"/><circle cx="214.5" cy="438.1" r="5.15" fill="#fffcc0"/><circle cx="214.5" cy="448.6" r="5.15" fill="#fffcc0"/><circle cx="214.5" cy="462.8" r="5.15" fill="#b2182b"/><circle cx="214.5" cy="470.4" r="5.15" fill="#b2182b"/><circle cx="214.5" cy="487.5" r="5.15" fill="#b2182b"/><circle cx="214.5" cy="513.1" r="5.15" fill="#fffcc0"/><circle cx="214.5" cy="523.5" r="5.15" fill="#fffcc0"/><circle cx="243.6" cy="438.1" r="5.15" fill="#fffcc0"/><circle cx="243.6" cy="448.6" r="5.15" fill="#fffcc0"/><circle cx="243.6" cy="470.4" r="5.15" fill="#b2182b"/><circle cx="243.6" cy="485.2" r="5.15" fill="#b2182b"/><circle cx="243.6" cy="513.1" r="5.15" fill="#fffcc0"/><circle cx="271.1" cy="438.1" r="5.15" fill="#fffcc0"/><circle cx="271.1" cy="448.6" r="5.15" fill="#b2182b"/><circle cx="271.1" cy="470.4" r="5.15" fill="#b2182b"/><circle cx="271.1" cy="485.2" r="5.15" fill="#b2182b"/><circle cx="271.1" cy="506.4" r="5.15" fill="#b2182b"/><circle cx="271.1" cy="521.2" r="5.15" fill="#b2182b"/><circle cx="299.8" cy="438.1" r="5.15" fill="#fffcc0"/><circle cx="299.8" cy="448.6" r="5.15" fill="#fffcc0"/><circle cx="299.8" cy="476.6" r="5.15" fill="#b2182b"/><circle cx="299.8" cy="491.8" r="5.15" fill="#b2182b"/><circle cx="299.8" cy="534.0" r="5.15" fill="#b2182b"/><circle cx="330.1" cy="438.1" r="5.15" fill="#fffcc0"/><circle cx="330.1" cy="448.6" r="5.15" fill="#fffcc0"/><circle cx="330.1" cy="470.4" r="5.15" fill="#b2182b"/><circle cx="330.1" cy="497.9" r="5.15" fill="#b2182b"/><circle cx="330.1" cy="513.1" r="5.15" fill="#b2182b"/><circle cx="330.1" cy="548.0" r="5.15" fill="#fffcc0"/><circle cx="358.6" cy="438.1" r="5.15" fill="#b2182b"/><circle cx="358.6" cy="448.6" r="5.15" fill="#b2182b"/><circle cx="358.6" cy="469.4" r="5.15" fill="#fffcc0"/><circle cx="358.6" cy="478.5" r="5.15" fill="#fffcc0"/><circle cx="358.6" cy="487.5" r="5.15" fill="#fffcc0"/><circle cx="358.6" cy="497.9" r="5.15" fill="#fffcc0"/><circle cx="358.6" cy="513.1" r="5.15" fill="#cfe4f0"/><circle cx="358.6" cy="555.7" r="5.15" fill="#cfe4f0"/><circle cx="389.5" cy="438.1" r="5.15" fill="#b2182b"/><circle cx="389.5" cy="448.6" r="5.15" fill="#fffcc0"/><circle cx="389.5" cy="464.7" r="5.15" fill="#b2182b"/><circle cx="389.5" cy="470.4" r="5.15" fill="#b2182b"/><circle cx="389.5" cy="502.1" r="5.15" fill="#b2182b"/><circle cx="389.5" cy="513.1" r="5.15" fill="#fffcc0"/><circle cx="389.5" cy="555.7" r="5.15" fill="#cfe4f0"/><circle cx="417.1" cy="438.1" r="5.15" fill="#fffcc0"/><circle cx="417.1" cy="448.6" r="5.15" fill="#fffcc0"/><circle cx="417.1" cy="470.4" r="5.15" fill="#b2182b"/><circle cx="417.1" cy="500.2" r="5.15" fill="#b2182b"/><circle cx="417.1" cy="513.1" r="5.15" fill="#b2182b"/><circle cx="417.1" cy="555.7" r="5.15" fill="#cfe4f0"/><circle cx="445.6" cy="438.1" r="5.15" fill="#fffcc0"/><circle cx="445.6" cy="448.6" r="5.15" fill="#fffcc0"/><circle cx="445.6" cy="470.4" r="5.15" fill="#fffcc0"/><circle cx="445.6" cy="497.9" r="5.15" fill="#b2182b"/><circle cx="445.6" cy="513.1" r="5.15" fill="#fffcc0"/><circle cx="445.6" cy="555.7" r="5.15" fill="#cfe4f0"/><circle cx="474.0" cy="438.1" r="5.15" fill="#fffcc0"/><circle cx="474.0" cy="448.6" r="5.15" fill="#cfe4f0"/><circle cx="474.0" cy="470.4" r="5.15" fill="#b2182b"/><circle cx="474.0" cy="508.3" r="5.15" fill="#b2182b"/><circle cx="474.0" cy="555.7" r="5.15" fill="#cfe4f0"/><circle cx="503.5" cy="438.1" r="5.15" fill="#cfe4f0"/><circle cx="503.5" cy="448.6" r="5.15" fill="#fffcc0"/><circle cx="503.5" cy="470.4" r="5.15" fill="#b2182b"/><circle cx="503.5" cy="485.2" r="5.15" fill="#b2182b"/><circle cx="503.5" cy="513.1" r="5.15" fill="#fffcc0"/><circle cx="503.5" cy="555.7" r="5.15" fill="#cfe4f0"/><circle cx="531.5" cy="438.1" r="5.15" fill="#fffcc0"/><circle cx="531.5" cy="448.6" r="5.15" fill="#fffcc0"/><circle cx="531.5" cy="470.4" r="5.15" fill="#fffcc0"/><circle cx="531.5" cy="483.1" r="5.15" fill="#b2182b"/><circle cx="531.5" cy="513.1" r="5.15" fill="#b2182b"/><circle cx="531.5" cy="555.7" r="5.15" fill="#cfe4f0"/><circle cx="559.1" cy="438.1" r="5.15" fill="#cfe4f0"/><circle cx="559.1" cy="470.4" r="5.15" fill="#b2182b"/><circle cx="559.1" cy="485.2" r="5.15" fill="#fffcc0"/><circle cx="559.1" cy="513.1" r="5.15" fill="#fffcc0"/><circle cx="559.1" cy="555.7" r="5.15" fill="#cfe4f0"/><circle cx="591.0" cy="438.1" r="5.15" fill="#fffcc0"/><circle cx="591.0" cy="464.1" r="5.15" fill="#b2182b"/><circle cx="591.0" cy="496.0" r="5.15" fill="#b2182b"/><circle cx="591.0" cy="513.1" r="5.15" fill="#fffcc0"/><circle cx="591.0" cy="555.7" r="5.15" fill="#cfe4f0"/></g>
<rect x="621.3" y="526.80" width="19.1" height="71.80" fill="#ffffe5"/>
<rect x="621.3" y="458.40" width="19.1" height="68.70" fill="#e4f9ae"/>
<rect x="621.3" y="386.40" width="19.1" height="72.30" fill="#d9eda0"/>
<rect x="621.3" y="318.60" width="19.1" height="68.10" fill="#addd8e"/>
<rect x="621.3" y="246.80" width="19.1" height="72.10" fill="#78c679"/>
<rect x="621.3" y="178.80" width="19.1" height="68.30" fill="#41ab5d"/>
<rect x="621.3" y="105.80" width="19.1" height="73.30" fill="#238443"/>
<rect x="621.3" y="39.10" width="19.1" height="67.00" fill="#005a32"/>
<g stroke="#1a1a1a" stroke-width="1.1" fill="none"><path d="M621.3 39.1H640.4V598.3H621.3Z"/>
<path d="M640.4 598.3H648.0"/>
<path d="M640.4 458.5H648.0"/>
<path d="M640.4 318.7H648.0"/>
<path d="M640.4 178.9H648.0"/>
<path d="M640.4 39.1H648.0"/>
</g>
<g stroke="#000" stroke-width="1.1"><circle cx="278.3" cy="46.3" r="5.15" fill="#b2182b"/><circle cx="278.3" cy="67.8" r="5.15" fill="#fffcc0"/><circle cx="278.3" cy="89.2" r="5.15" fill="#cfe4f0"/></g>
</svg>
<div class="t r ym " style="left:49.0px;top:11.0px;">0</div>
<div class="t r ym " style="left:49.0px;top:53.5px;">20</div>
<div class="t r ym " style="left:49.0px;top:96.2px;">40</div>
<div class="t r ym " style="left:49.0px;top:138.9px;">60</div>
<div class="t r ym " style="left:49.0px;top:181.7px;">80</div>
<div class="t c ym " style="left:150.5px;top:206.0px;">56.5</div>
<div class="t c ym " style="left:310.5px;top:206.0px;">57</div>
<div class="t c ym " style="left:470.5px;top:206.0px;">57.5</div>
<div class="t l ym " style="left:-0.3px;top:14.2px;font-weight:bold;font-size:17px;">a</div>
<div class="t yl" style="left:15.8px;top:95.2px;">Depth (m)</div>
<div class="t r ym " style="left:49.0px;top:220.3px;">0</div>
<div class="t r ym " style="left:49.0px;top:262.8px;">20</div>
<div class="t r ym " style="left:49.0px;top:305.5px;">40</div>
<div class="t r ym " style="left:49.0px;top:348.2px;">60</div>
<div class="t r ym " style="left:49.0px;top:391.0px;">80</div>
<div class="t c ym " style="left:150.5px;top:415.3px;">56.5</div>
<div class="t c ym " style="left:310.5px;top:415.3px;">57</div>
<div class="t c ym " style="left:470.5px;top:415.3px;">57.5</div>
<div class="t l ym " style="left:-0.3px;top:223.2px;font-weight:bold;font-size:17px;">b</div>
<div class="t yl" style="left:15.8px;top:302.5px;">Depth (m)</div>
<div class="t r ym " style="left:49.0px;top:429.6px;">0</div>
<div class="t r ym " style="left:49.0px;top:472.1px;">20</div>
<div class="t r ym " style="left:49.0px;top:514.8px;">40</div>
<div class="t r ym " style="left:49.0px;top:557.5px;">60</div>
<div class="t r ym " style="left:49.0px;top:600.3px;">80</div>
<div class="t c ym " style="left:150.5px;top:624.6px;">56.5</div>
<div class="t c ym " style="left:310.5px;top:624.6px;">57</div>
<div class="t c ym " style="left:470.5px;top:624.6px;">57.5</div>
<div class="t l ym " style="left:-0.3px;top:432.0px;font-weight:bold;font-size:17px;">c</div>
<div class="t yl" style="left:15.8px;top:512.6px;">Depth (m)</div>
<div class="t l ym " style="left:86.2px;top:47.0px;">Fv/Fm* &#8805; 0.41</div>
<div class="t l ym " style="left:86.2px;top:68.3px;">0.41 &gt; Fv/Fm* &#8805; 0.35</div>
<div class="t l ym " style="left:86.2px;top:89.7px;">Fv/Fm* &lt; 0.35</div>
<div class="t l ym " style="left:119.0px;top:164.3px;font-size:18.1px;">Transect 2</div>
<div class="t l ym " style="left:119.0px;top:374.2px;font-size:18.1px;">Transect 4</div>
<div class="t l ym " style="left:119.0px;top:583.3px;font-size:18.1px;">Transect 5</div>
<div class="t l ym " style="left:279.8px;top:646.3px;">Latitude (<span style="font-size:14.5px;position:relative;top:-5px;margin-right:0.5px">&#176;</span>N)</div>
<div class="t l ym " style="left:606.5px;top:15.6px;">Chl &#181;g L<span style="font-size:11.5px;position:relative;top:-7px">-1</span></div>
<div class="t r ym " style="left:681.5px;top:600.3px;">0</div>
<div class="t r ym " style="left:681.5px;top:460.5px;">0.4</div>
<div class="t r ym " style="left:681.5px;top:320.7px;">0.8</div>
<div class="t r ym " style="left:681.5px;top:180.9px;">1.2</div>
<div class="t r ym " style="left:681.5px;top:41.1px;">1.6</div>
<div class="t l ym " style="left:647.0px;top:294.2px;">&gt;</div>
</body></html>
